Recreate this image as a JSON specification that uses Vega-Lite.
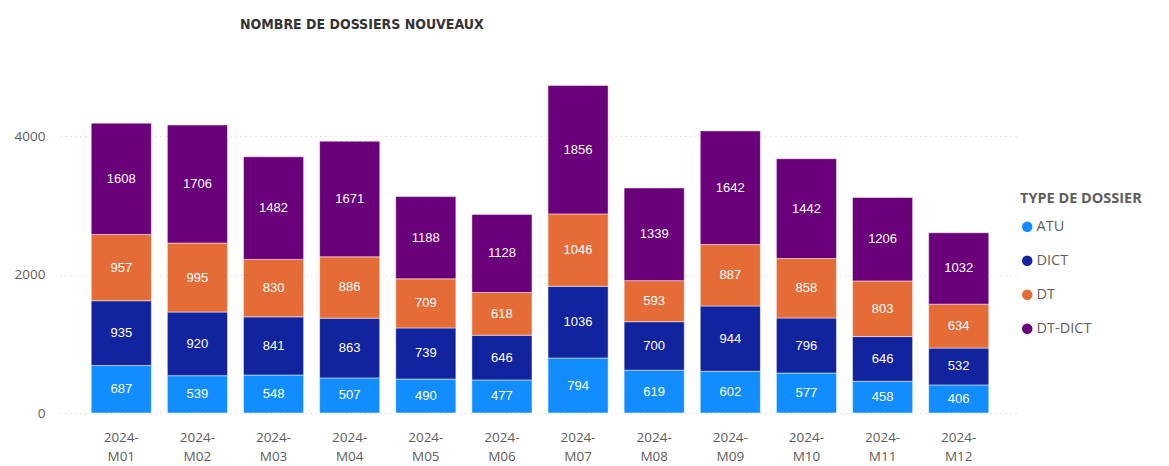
{
  "$schema": "https://vega.github.io/schema/vega-lite/v6.json",
  "autosize": {"type": "none"},
  "padding": {"left": 60, "top": 53, "right": 149, "bottom": 53},
  "width": 960,
  "height": 360,
  "background": "white",
  "config": {
    "view": {"stroke": null},
    "font": "Open Sans"
  },
  "title": {
    "text": "NOMBRE DE DOSSIERS NOUVEAUX",
    "anchor": "start",
    "frame": "group",
    "dx": 180,
    "offset": 21,
    "font": "DejaVu Sans Condensed",
    "fontSize": 14,
    "fontWeight": "bold",
    "color": "#333333"
  },
  "data": {
    "values": [
      {"month": "2024-M01", "type": "ATU", "value": 687},
      {"month": "2024-M01", "type": "DICT", "value": 935},
      {"month": "2024-M01", "type": "DT", "value": 957},
      {"month": "2024-M01", "type": "DT-DICT", "value": 1608},
      {"month": "2024-M02", "type": "ATU", "value": 539},
      {"month": "2024-M02", "type": "DICT", "value": 920},
      {"month": "2024-M02", "type": "DT", "value": 995},
      {"month": "2024-M02", "type": "DT-DICT", "value": 1706},
      {"month": "2024-M03", "type": "ATU", "value": 548},
      {"month": "2024-M03", "type": "DICT", "value": 841},
      {"month": "2024-M03", "type": "DT", "value": 830},
      {"month": "2024-M03", "type": "DT-DICT", "value": 1482},
      {"month": "2024-M04", "type": "ATU", "value": 507},
      {"month": "2024-M04", "type": "DICT", "value": 863},
      {"month": "2024-M04", "type": "DT", "value": 886},
      {"month": "2024-M04", "type": "DT-DICT", "value": 1671},
      {"month": "2024-M05", "type": "ATU", "value": 490},
      {"month": "2024-M05", "type": "DICT", "value": 739},
      {"month": "2024-M05", "type": "DT", "value": 709},
      {"month": "2024-M05", "type": "DT-DICT", "value": 1188},
      {"month": "2024-M06", "type": "ATU", "value": 477},
      {"month": "2024-M06", "type": "DICT", "value": 646},
      {"month": "2024-M06", "type": "DT", "value": 618},
      {"month": "2024-M06", "type": "DT-DICT", "value": 1128},
      {"month": "2024-M07", "type": "ATU", "value": 794},
      {"month": "2024-M07", "type": "DICT", "value": 1036},
      {"month": "2024-M07", "type": "DT", "value": 1046},
      {"month": "2024-M07", "type": "DT-DICT", "value": 1856},
      {"month": "2024-M08", "type": "ATU", "value": 619},
      {"month": "2024-M08", "type": "DICT", "value": 700},
      {"month": "2024-M08", "type": "DT", "value": 593},
      {"month": "2024-M08", "type": "DT-DICT", "value": 1339},
      {"month": "2024-M09", "type": "ATU", "value": 602},
      {"month": "2024-M09", "type": "DICT", "value": 944},
      {"month": "2024-M09", "type": "DT", "value": 887},
      {"month": "2024-M09", "type": "DT-DICT", "value": 1642},
      {"month": "2024-M10", "type": "ATU", "value": 577},
      {"month": "2024-M10", "type": "DICT", "value": 796},
      {"month": "2024-M10", "type": "DT", "value": 858},
      {"month": "2024-M10", "type": "DT-DICT", "value": 1442},
      {"month": "2024-M11", "type": "ATU", "value": 458},
      {"month": "2024-M11", "type": "DICT", "value": 646},
      {"month": "2024-M11", "type": "DT", "value": 803},
      {"month": "2024-M11", "type": "DT-DICT", "value": 1206},
      {"month": "2024-M12", "type": "ATU", "value": 406},
      {"month": "2024-M12", "type": "DICT", "value": 532},
      {"month": "2024-M12", "type": "DT", "value": 634},
      {"month": "2024-M12", "type": "DT-DICT", "value": 1032}
    ]
  },
  "transform": [
    {"stack": "value", "groupby": ["month"], "sort": [{"field": "type", "order": "ascending"}], "as": ["v0", "v1"]},
    {"calculate": "(datum.v0 + datum.v1) / 2", "as": "mid"}
  ],
  "encoding": {
    "x": {
      "field": "month",
      "type": "ordinal",
      "scale": {"paddingInner": 0.21, "paddingOuter": 0.41},
      "axis": {
        "title": null,
        "labelAngle": 0,
        "domain": false,
        "ticks": false,
        "labelPadding": 17,
        "labelFontSize": 13.5,
        "labelColor": "#605E5C",
        "labelLineHeight": 19,
        "labelBaseline": "top",
        "labelExpr": "[slice(datum.label, 0, 5), slice(datum.label, 5)]"
      }
    }
  },
  "layer": [
    {
      "mark": {"type": "bar", "stroke": "white", "strokeWidth": 0.5},
      "encoding": {
        "y": {
          "field": "v0",
          "type": "quantitative",
          "scale": {"domain": [0, 5200], "nice": false},
          "axis": {
            "title": null,
            "values": [0, 2000, 4000],
            "format": "d",
            "domain": false,
            "ticks": false,
            "labelPadding": 15,
            "labelFontSize": 13.5,
            "labelColor": "#605E5C",
            "gridColor": "#C8C8C8",
            "gridDash": [1, 4],
            "gridWidth": 1
          }
        },
        "y2": {"field": "v1"},
        "color": {
          "field": "type",
          "type": "nominal",
          "scale": {
            "domain": ["ATU", "DICT", "DT", "DT-DICT"],
            "range": ["#118DFF", "#12239E", "#E66C37", "#6B007B"]
          },
          "legend": {
            "title": "TYPE DE DOSSIER",
            "orient": "none",
            "legendX": 960,
            "legendY": 139,
            "titleFontSize": 14.5,
            "titleFont": "Open Sans",
            "titleFontWeight": "bold",
            "titleColor": "#605E5C",
            "titlePadding": 13,
            "labelFontSize": 14.5,
            "labelColor": "#605E5C",
            "labelOffset": 2,
            "symbolType": "circle",
            "symbolSize": 110,
            "symbolStrokeWidth": 0,
            "rowPadding": 19
          }
        }
      }
    },
    {
      "mark": {"type": "text", "color": "white", "fontSize": 13, "font": "Liberation Sans", "baseline": "middle"},
      "encoding": {
        "y": {"field": "mid", "type": "quantitative"},
        "text": {"field": "value", "type": "quantitative"}
      }
    }
  ]
}
